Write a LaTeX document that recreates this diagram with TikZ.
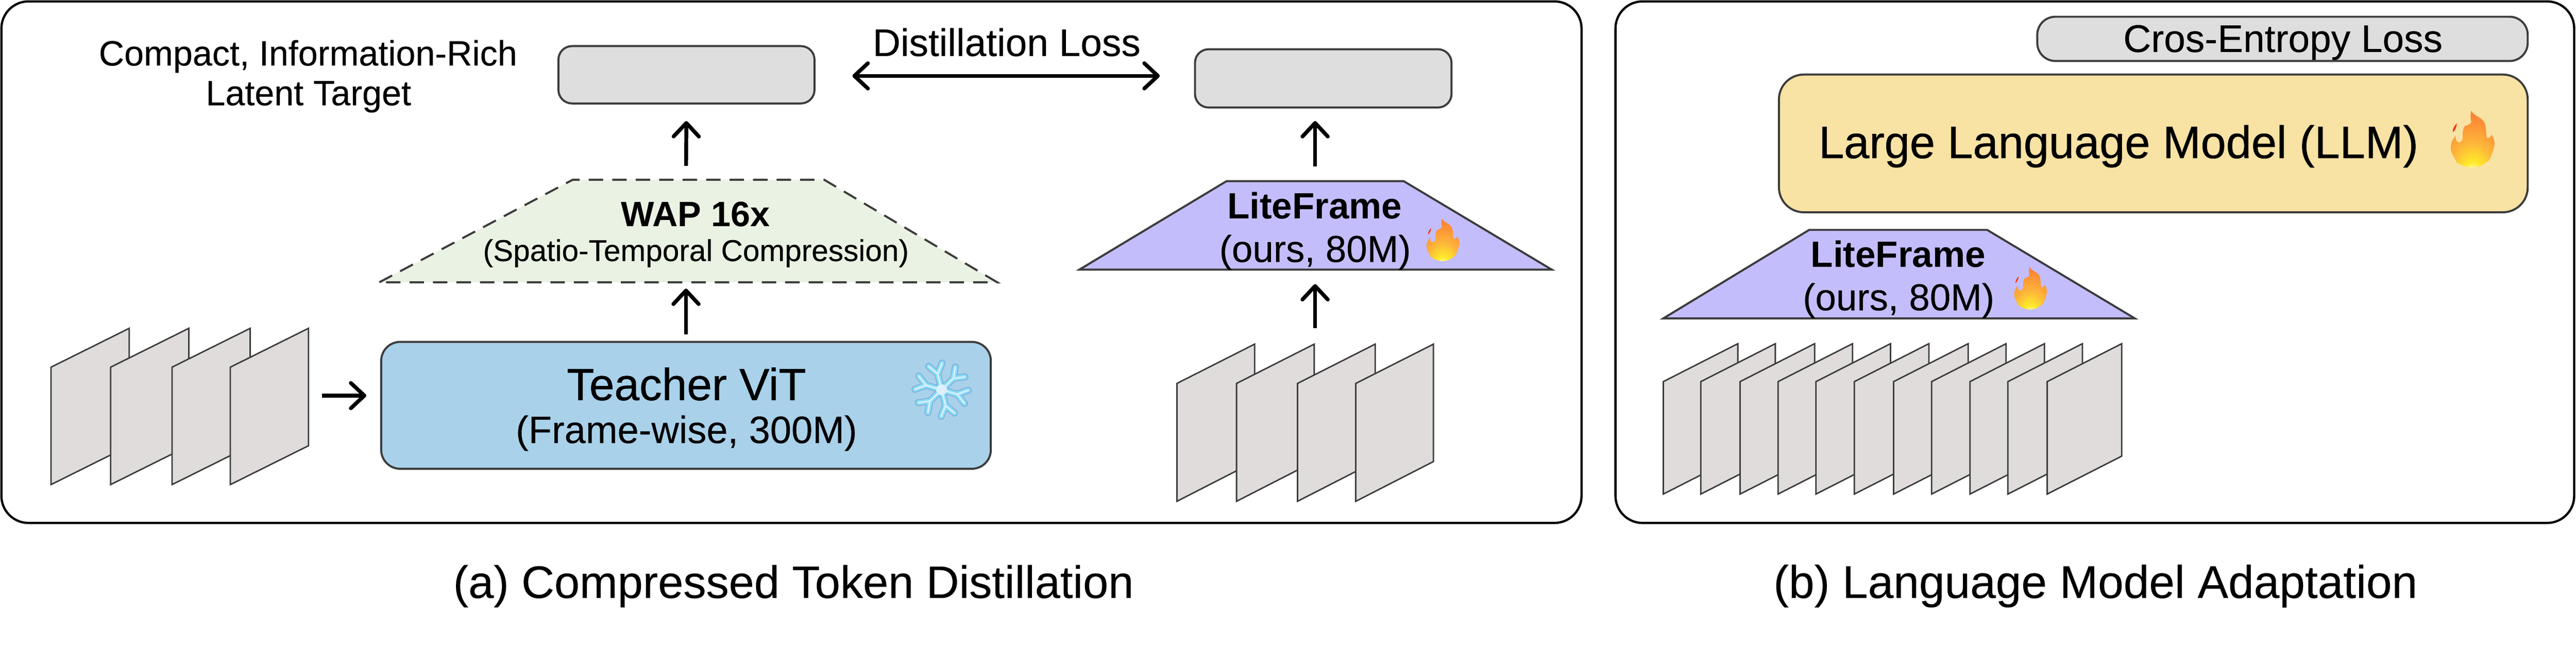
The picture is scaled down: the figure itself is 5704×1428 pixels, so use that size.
\documentclass[tikz,border=0pt]{standalone}
\usepackage{fontspec}
\setmainfont{Liberation Sans}
\newfontface\softface{Liberation Sans}[FakeBold = .2]
\newfontface\heavyface{Liberation Sans}[FakeBold = .6]
\usetikzlibrary{
  positioning,
  arrows.meta
}
\definecolor{greyBox}{HTML}{DEDEDE}
\definecolor{greyFrame}{HTML}{DFDCDB}
\definecolor{lineDark}{HTML}{3C3C3C}
\definecolor{greenWap}{HTML}{EAF2E4}
\definecolor{purpleLite}{HTML}{C3BEFB}
\definecolor{blueTeacher}{HTML}{A9D1EA}
\definecolor{yellowLlm}{HTML}{F8E2A4}
\definecolor{flameRed}{HTML}{F8391A}
\definecolor{flameOrange}{HTML}{FB7A35}
\definecolor{flameAmber}{HTML}{FDB43A}
\definecolor{flameYellow}{HTML}{FFEB2A}
\definecolor{iceEdge}{HTML}{7FA9D6}
\definecolor{iceBody}{HTML}{86DDF7}
\definecolor{iceCore}{HTML}{DCEFFB}
\pgfdeclareradialshading{flameshade}{\pgfpoint{0bp}{-36bp}}{
  color(0bp)=(white);
  color(5bp)=(white);
  color(11bp)=(flameYellow);
  color(24bp)=(flameAmber);
  color(44bp)=(flameOrange);
  color(66bp)=(flameRed);
  color(90bp)=(flameRed)
}
\tikzset{
  panel/.style = {draw = black, line width = .5pt, rounded corners = 6pt},
  flow/.style = {
    line width = .85pt,
    arrows = {-Straight Barb[length = 3pt, width = 5.6pt, round]}
  },
  softbox/.style = {
    draw = lineDark, line width = .45pt, inner sep = 0pt, outer sep = 0pt
  },
  slot/.style = {inner sep = 0pt, outer sep = 0pt},
  trapline/.style = {draw = lineDark, line width = .45pt, line join = miter},
  frameface/.style = {draw = lineDark, line width = .32pt, fill = greyFrame},
  tag/.style = {anchor = base, inner sep = 0pt, outer sep = 0pt},
  pics/flame/.style = {
    code = {
      % Body.
      \shade[shading = flameshade]
        (-3,-63) .. controls (3,-50) and (22,-48) .. (27,-35)
        .. controls (31,-25) and (29,-10) .. (32,-2)
        .. controls (37,-2) and (40,-5) .. (42,-10)
        .. controls (48,0) and (50,8) .. (48,15)
        .. controls (46,28) and (40,38) .. (38,45)
        .. controls (25,58) and (10,63) .. (0,63)
        .. controls (-12,63) and (-25,58) .. (-35,52)
        .. controls (-42,38) and (-50,28) .. (-48,15)
        .. controls (-48,5) and (-42,0) .. (-38,-8)
        .. controls (-38,0) and (-36,6) .. (-32,7)
        .. controls (-28,8) and (-23,5) .. (-22,-2)
        .. controls (-22,-12) and (-22,-22) .. (-18,-28)
        .. controls (-14,-32) and (-6,-30) .. (-3,-38)
        .. controls (-5,-45) and (-5,-55) .. (-3,-63) -- cycle;
      % Spark.
      \fill[flameRed]
        (-35,-35) .. controls (-42,-28) and (-45,-20) .. (-44,-15)
        .. controls (-38,-20) and (-35,-28) .. (-35,-35) -- cycle;
    }
  },
  pics/snowflake/.style = {
    code = {
      \foreach \tone/\wide in {iceEdge/1.5pt, iceBody/1.15pt, iceCore/.35pt}{
        \foreach \a in {16, 76, 136, 196, 256, 316}{
          \draw[\tone, line width = \wide, line cap = round, line join = round]
            (0,0) -- (\a:36)
            (\a+15:59) -- (\a:36) -- (\a-15:59);
        }
      }
      \fill[iceCore] (0,0) circle (12);
    }
  }
}

\begin{document}
\begin{tikzpicture}[x = .1pt, y = -.1pt]
  \useasboundingbox (0,0) rectangle (5704,1428);

  % Panels.
  \node[panel, inner sep = 0pt, minimum width = 349.9pt, minimum height = 115.5pt] (panelA) at (1752.5,580.5) {};
  \node[panel, inner sep = 0pt, minimum width = 212.3pt, minimum height = 115.5pt] (panelB) at (4638.5,580.5) {};

  % Latent targets.
  \node[softbox, fill = greyBox, rounded corners = 3pt, minimum width = 56.7pt, minimum height = 12.7pt] (targetA) at (1520,165.5) {};
  \node[softbox, fill = greyBox, rounded corners = 3pt, minimum width = 56.8pt, minimum height = 12.9pt] (targetB) at (2930,173.5) {};
  \node[tag, font = \softface\fontsize{7.79}{9}\selectfont] (compactText) at (682,145) {Compact, Information-Rich};
  \node[tag, font = \softface\fontsize{7.79}{9}\selectfont] (latentText) at (683,233) {Latent Target};
  \node[tag, font = \softface\fontsize{8.54}{10}\selectfont] (lossText) at (2229,124) {Distillation Loss};

  % Teacher path.
  \node[softbox, fill = blueTeacher, rounded corners = 4.2pt, minimum width = 135pt, minimum height = 28.1pt] (teacher) at (1519,897.5) {};
  \node[tag, font = \heavyface\fontsize{9.97}{12}\selectfont] (teacherName) at (1520,886) {Teacher ViT};
  \node[tag, font = \softface\fontsize{8.45}{10}\selectfont] (teacherNote) at (1520,981) {(Frame-wise, 300M)};
  \pic at (2085,863) {snowflake};
  \node[slot, minimum width = 136.8pt, minimum height = 22.7pt] (wap) at (1524,511.5) {};
  \draw[trapline, dash pattern = on 3.2pt off 2pt, fill = greenWap] (wap.south west) -- ([xshift = 42.8pt]wap.north west) -- ([xshift = -38.3pt]wap.north east) -- (wap.south east) -- cycle;
  \node[tag, font = \fontsize{7.8}{9}\selectfont\bfseries] (wapName) at (1540,501) {WAP 16x};
  \node[tag, font = \softface\fontsize{6.68}{8}\selectfont] (wapNote) at (1541,578) {(Spatio-Temporal Compression)};

  % Student path.
  \node[slot, minimum width = 104.6pt, minimum height = 19.6pt] (liteA) at (2913,499) {};
  \draw[trapline, fill = purpleLite] (liteA.south west) -- ([xshift = 32.6pt]liteA.north west) -- ([xshift = -32.8pt]liteA.north east) -- (liteA.south east) -- cycle;
  \node[tag, font = \fontsize{8.1}{10}\selectfont\bfseries] (liteAName) at (2911,484) {LiteFrame};
  \node[tag, font = \softface\fontsize{8.3}{10}\selectfont] (liteANote) at (2912,580) {(ours, 80M)};
  \pic[scale = .75] at (3195,531) {flame};

  % Input frames.
  \foreach \fx in {113, 245, 381, 510}{
    \draw[frameface] (\fx,813) -- (\fx+173,727) -- (\fx+173,987) -- (\fx,1073) -- cycle;
  }
  \foreach \fx in {2606, 2738, 2873, 3002}{
    \draw[frameface] (\fx,849) -- (\fx+172,762) -- (\fx+172,1022) -- (\fx,1110) -- cycle;
  }
  \coordinate (framesA) at (713,876);
  \coordinate (framesB) at (2912,762);

  % Links.
  \draw[flow, shorten > = 3.3pt] (framesA) -- (framesA -| teacher.west);
  \draw[flow, shorten < = 1.7pt, shorten > = 1.4pt] (teacher.north) -- (teacher.north |- wap.south);
  \draw[flow, shorten < = 3.1pt, shorten > = 3.9pt] (teacher.north |- wap.north) -- (targetA.south);
  \draw[flow, shorten < = 3.5pt, shorten > = 3.2pt] (framesB) -- (framesB |- liteA.south);
  \draw[flow, shorten < = 3.3pt, shorten > = 3pt] (framesB |- liteA.north) -- (framesB |- targetB.south);
  \draw[flow, arrows = {Straight Barb[length = 3pt, width = 5.6pt, round]-Straight Barb[length = 3pt, width = 5.6pt, round]}, shorten < = 8.4pt, shorten > = 7.8pt] (targetA.east |- 0,168) -- (targetB.west |- 0,168);

  % Language model side.
  \node[softbox, fill = greyBox, rounded corners = 4pt, minimum width = 108.6pt, minimum height = 9.8pt] (crossLoss) at (5054,86) {};
  \node[tag, font = \softface\fontsize{8.54}{10}\selectfont] (crossText) at (5055,115) {Cros-Entropy Loss};
  \node[softbox, fill = yellowLlm, rounded corners = 5.5pt, minimum width = 165.8pt, minimum height = 30.5pt] (llm) at (4768,317.5) {};
  \node[tag, font = \heavyface\fontsize{10.08}{12}\selectfont] (llmText) at (4691,350) {Large Language Model (LLM)};
  \pic at (5475,308) {flame};
  \node[slot, minimum width = 104.4pt, minimum height = 19.6pt] (liteB) at (4205,607) {};
  \draw[trapline, fill = purpleLite] (liteB.south west) -- ([xshift = 32.3pt]liteB.north west) -- ([xshift = -32.7pt]liteB.north east) -- (liteB.south east) -- cycle;
  \node[tag, font = \fontsize{8.1}{10}\selectfont\bfseries] (liteBName) at (4203,591) {LiteFrame};
  \node[tag, font = \softface\fontsize{8.3}{10}\selectfont] (liteBNote) at (4204,687) {(ours, 80M)};
  \pic[scale = .75] at (4496,638) {flame};
  \foreach \fx in {3683, 3766, 3853, 3937, 4021, 4106, 4193, 4277, 4362, 4446, 4533}{
    \draw[frameface] (\fx,845) -- (\fx+165,761) -- (\fx+165,1010) -- (\fx,1094) -- cycle;
  }

  % Captions.
  \node[tag, font = \softface\fontsize{10.08}{12}\selectfont] (captionA) at (1757,1324) {(a) Compressed Token Distillation};
  \node[tag, font = \softface\fontsize{10.18}{12}\selectfont] (captionB) at (4640,1324) {(b) Language Model Adaptation};
\end{tikzpicture}
\end{document}
